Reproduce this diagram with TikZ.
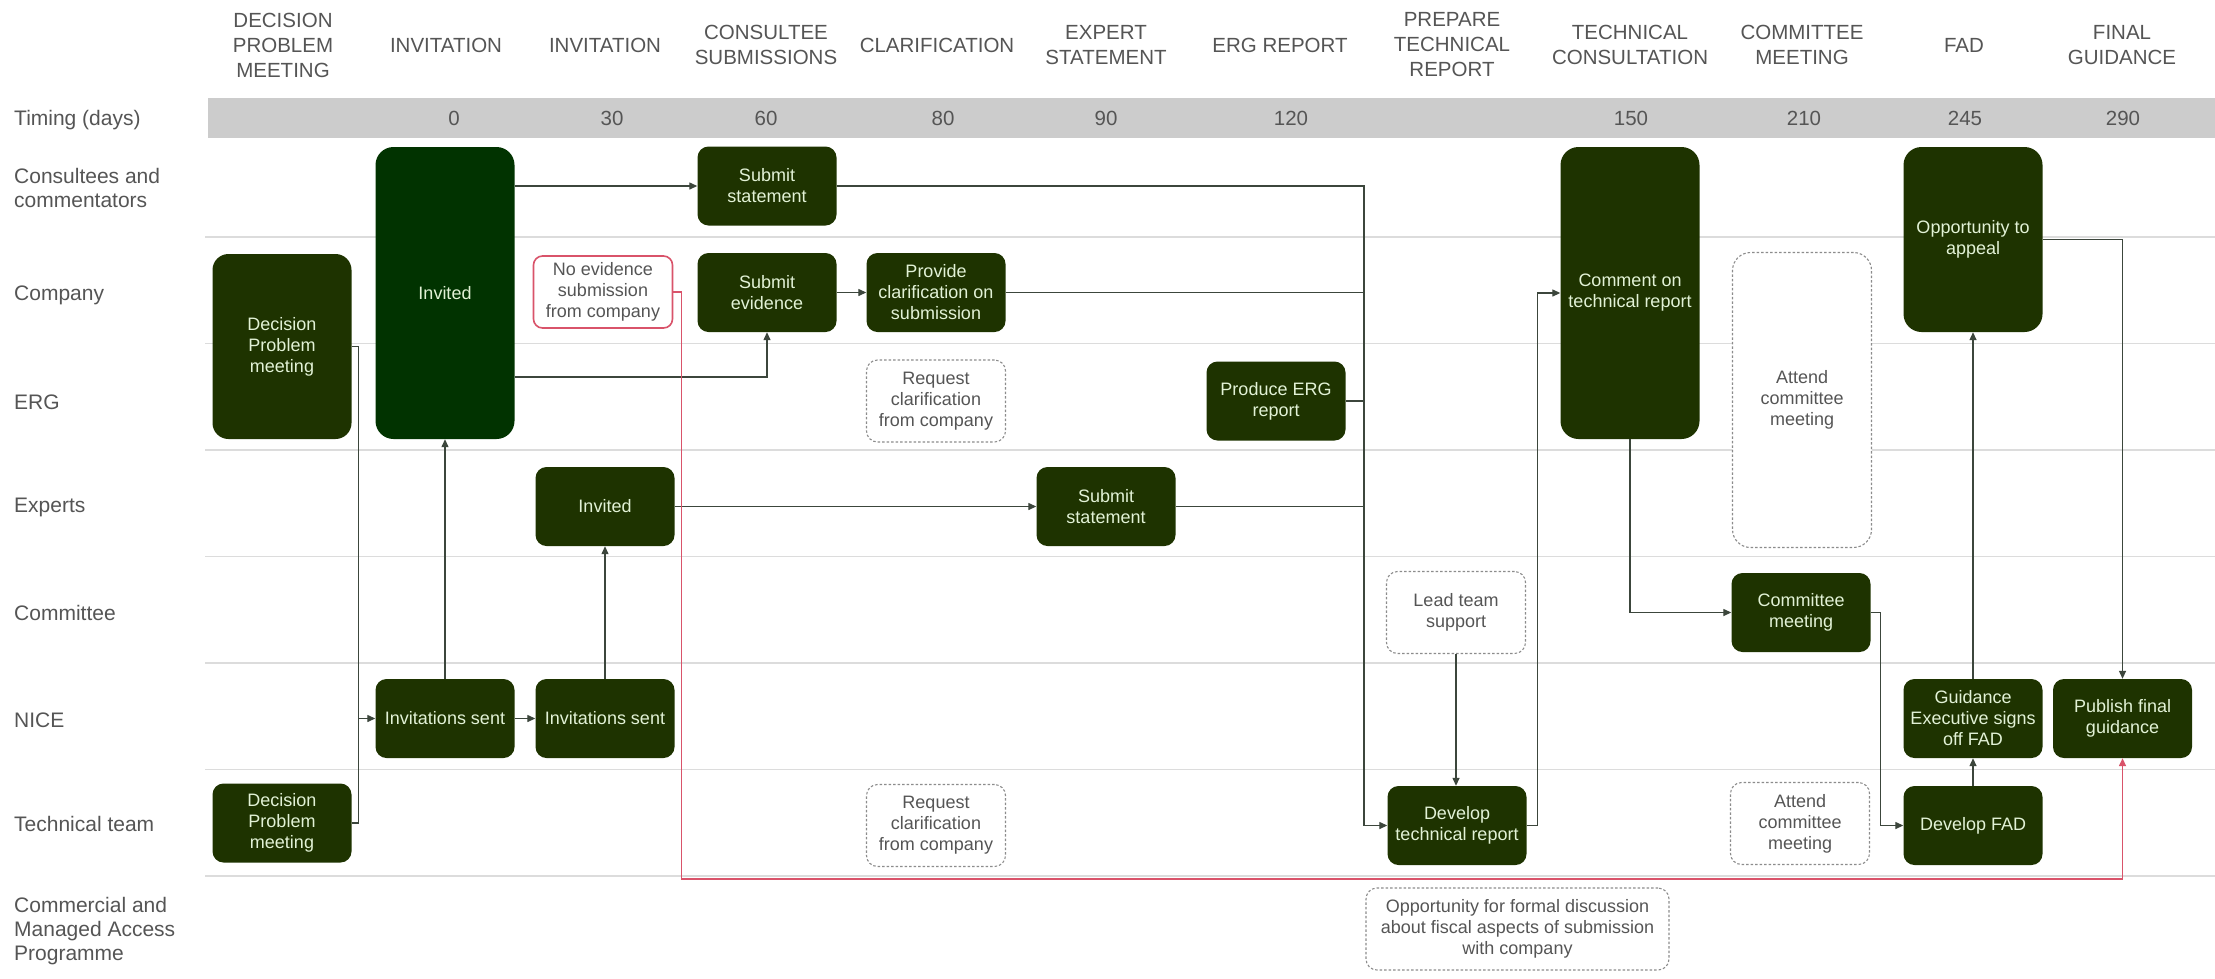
\documentclass[tikz,border=0pt]{standalone}
\usepackage{fontspec}
\setmainfont{Liberation Sans}
\usetikzlibrary{arrows.meta}
\definecolor{boxg}{HTML}{1E3300}
\definecolor{boxgg}{HTML}{013300}
\definecolor{btxt}{HTML}{E2F2D6}
\definecolor{gtxt}{HTML}{555555}
\definecolor{sepc}{HTML}{DCDCDC}
\definecolor{barc}{HTML}{CCCCCC}
\definecolor{linec}{HTML}{3C463C}
\definecolor{redc}{HTML}{D9536A}
\definecolor{dashc}{HTML}{8C8C8C}
\begin{document}
\begin{tikzpicture}[x=1pt,y=-1pt,
  dbox/.style={draw=none, fill=boxg, rounded corners=11pt, minimum width=139pt, minimum height=79pt,
    align=center, text=btxt, font=\fontsize{18}{21}\selectfont, inner sep=1pt},
  gbox/.style={draw=dashc, fill=white, line width=1.1pt, dash pattern=on 2.5pt off 2pt, rounded corners=11pt,
    minimum width=139pt, minimum height=82pt, align=center, text=gtxt, font=\fontsize{18}{21}\selectfont, inner sep=1pt},
  rbox/.style={draw=redc, fill=white, line width=1.6pt, rounded corners=9pt, minimum width=139pt, minimum height=72pt,
    align=center, text=gtxt, font=\fontsize{18}{21}\selectfont, inner sep=1pt},
  hdr/.style={align=center, text=gtxt, font=\fontsize{20.5}{25}\selectfont, inner sep=0pt},
  lane/.style={anchor=west, align=left, text=gtxt, font=\fontsize{21}{24}\selectfont, inner sep=0pt},
  num/.style={text=gtxt, font=\fontsize{20.5}{24}\selectfont, inner sep=0pt},
  sepline/.style={draw=sepc, line width=1.4pt},
  conn/.style={draw=linec, line width=1.3pt},
  arr/.style={conn, -{Triangle[length=8pt,width=7pt]}},
  redarr/.style={draw=redc, line width=1.6pt, -{Triangle[length=8pt,width=7pt]}}
]
\useasboundingbox (0,0) rectangle (2215,978);
\fill[white] (0,0) rectangle (2215,978);

% timing bar and lane separators
\fill[barc] (208,98) rectangle (2215,138);
\foreach \yy in {237,343.5,450,556.5,663,769.5,876}
  \draw[sepline] (205,\yy) -- (2215,\yy);

% headers
\node[hdr] (h1) at (283,45) {DECISION\\PROBLEM\\MEETING};
\node[hdr] (h2) at (446,45) {INVITATION};
\node[hdr] (h3) at (605,45) {INVITATION};
\node[hdr] (h4) at (766,45) {CONSULTEE\\SUBMISSIONS};
\node[hdr] (h5) at (937,45) {CLARIFICATION};
\node[hdr] (h6) at (1106,45) {EXPERT\\STATEMENT};
\node[hdr] (h7) at (1280,45) {ERG REPORT};
\node[hdr] (h8) at (1452,45) {PREPARE\\TECHNICAL\\REPORT};
\node[hdr] (h9) at (1630,45) {TECHNICAL\\CONSULTATION};
\node[hdr] (h10) at (1802,45) {COMMITTEE\\MEETING};
\node[hdr] (h11) at (1964,45) {FAD};
\node[hdr] (h12) at (2122,45) {FINAL\\GUIDANCE};

% timing numbers
\node[num] (n1) at (454,118) {0};
\node[num] (n2) at (612,118) {30};
\node[num] (n3) at (766,118) {60};
\node[num] (n4) at (943,118) {80};
\node[num] (n5) at (1106,118) {90};
\node[num] (n6) at (1291,118) {120};
\node[num] (n7) at (1631,118) {150};
\node[num] (n8) at (1804,118) {210};
\node[num] (n9) at (1965,118) {245};
\node[num] (n10) at (2123,118) {290};

% lane labels
\node[lane] (l0) at (14,120) {Timing (days)};
\node[lane] (l1) at (14,187.5) {Consultees and\\commentators};
\node[lane] (l2) at (14,295) {Company};
\node[lane] (l3) at (14,402) {ERG};
\node[lane] (l4) at (14,507) {Experts};
\node[lane] (l5) at (14,613) {Committee};
\node[lane] (l6) at (14,720) {NICE};
\node[lane] (l7) at (14,824) {Technical team};
\node[lane] (l8) at (14,931) {Commercial and\\Managed Access\\Programme};

% boxes
\node[dbox, minimum height=185pt, rounded corners=16pt] (dpm1) at (282,346.5) {Decision\\Problem\\meeting};
\node[dbox, fill=boxgg, minimum height=292pt, rounded corners=18pt] (inv1) at (445,293) {Invited};
\node[rbox] (noev) at (603,292) {No evidence\\submission\\from company};
\node[dbox] (subst1) at (767,186) {Submit\\statement};
\node[dbox] (subev) at (767,292.5) {Submit\\evidence};
\node[dbox] (prov) at (936,292.5) {Provide\\clarification on\\submission};
\node[gbox] (req1) at (936,401) {Request\\clarification\\from company};
\node[dbox] (erg) at (1276,401) {Produce ERG\\report};
\node[dbox] (inv2) at (605,506.5) {Invited};
\node[dbox] (subst2) at (1106,506.5) {Submit\\statement};
\node[gbox] (lead) at (1456,612.5) {Lead team\\support};
\node[dbox, minimum height=292pt, rounded corners=18pt] (comm) at (1630,293) {Comment on\\technical report};
\node[gbox, minimum height=295pt, rounded corners=18pt] (att1) at (1802,400) {Attend\\committee\\meeting};
\node[dbox] (cm) at (1801,612.5) {Committee\\meeting};
\node[dbox, minimum height=185pt, rounded corners=18pt] (appeal) at (1973,239.5) {Opportunity to\\appeal};
\node[dbox] (is1) at (445,718.5) {Invitations sent};
\node[dbox] (is2) at (605,718.5) {Invitations sent};
\node[dbox] (ge) at (1973,718.5) {Guidance\\Executive signs\\off FAD};
\node[dbox] (pub) at (2122.5,718.5) {Publish final\\guidance};
\node[dbox] (dpm2) at (282,823) {Decision\\Problem\\meeting};
\node[gbox] (req2) at (936,825.5) {Request\\clarification\\from company};
\node[dbox] (dev) at (1457,825.5) {Develop\\technical report};
\node[gbox] (att2) at (1800,823.5) {Attend\\committee\\meeting};
\node[dbox] (fad) at (1973,825.5) {Develop FAD};
\node[gbox, minimum width=303pt, minimum height=82pt] (opp) at (1517.5,929) {Opportunity for formal discussion\\about fiscal aspects of submission\\with company};

% helper coordinates
\coordinate (y377) at (0,377);
\coordinate (bx) at (1364,0);
\coordinate (yred) at (0,879);

% connectors
\draw[conn] (dpm1.east) -- ++(7,0) |- (dpm2.east);
\draw[arr] (dpm2.east) -- ++(7,0) |- (is1.west);
\draw[arr] (is1.east) -- (is2.west);
\draw[arr] (is1.north) -- (inv1.south);
\draw[arr] (is2.north) -- (inv2.south);
\draw[arr] (inv1.east |- subst1.west) -- (subst1.west);
\draw[arr] (inv1.east |- y377) -| (subev.south);
\draw[arr] (subev.east) -- (prov.west);
\draw[arr] (inv2.east) -- (subst2.west);
\draw[arr] (subst1.east) -| (bx |- dev.west) -- (dev.west);
\draw[conn] (prov.east) -- (bx |- prov.east);
\draw[conn] (erg.east) -- (bx |- erg.east);
\draw[conn] (subst2.east) -- (bx |- subst2.east);
\draw[arr] (lead.south) -- (lead.south |- dev.north);
\draw[arr] (dev.east) -- ++(11,0) |- (comm.west);
\draw[arr] (comm.south) |- (cm.west);
\draw[arr] (cm.east) -- ++(10,0) |- (fad.west);
\draw[arr] (fad.north) -- (ge.south);
\draw[arr] (ge.north) -- (appeal.south);
\draw[arr] (appeal.east) -| (pub.north);
\draw[redarr] (noev.east) -| ([xshift=8pt]noev.east |- yred) -| (pub.south);
\end{tikzpicture}
\end{document}
